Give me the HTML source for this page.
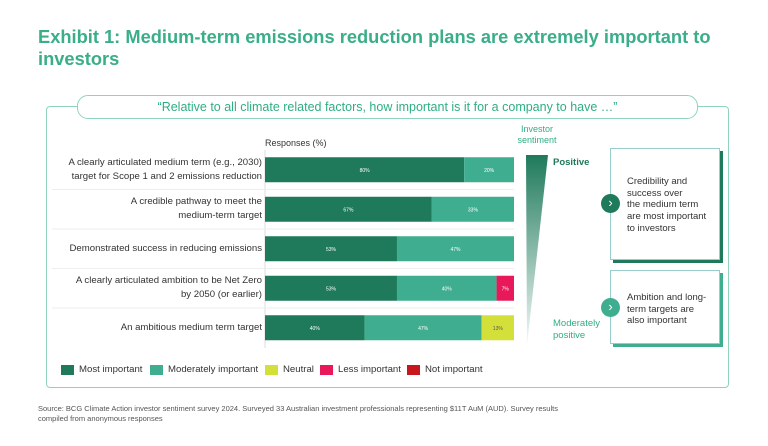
<!DOCTYPE html>
<html><head><meta charset="utf-8"><style>
body{margin:0;width:768px;height:446px;background:#fff;font-family:"Liberation Sans",sans-serif;position:relative;overflow:hidden}
.a{position:absolute}
.lbl{position:absolute;right:506px;text-align:right;font-size:9.6px;color:#333;line-height:14px;width:240px;white-space:pre-line}
.leg{position:absolute;top:364px;font-size:9.6px;color:#333;display:flex;align-items:center;white-space:nowrap}
.leg i{display:inline-block;width:13px;height:10px;margin-right:5px}
</style></head><body>
<div class="a" style="left:38px;top:26px;font-size:18.3px;font-weight:bold;color:#3aae88;line-height:22px;width:700px">Exhibit 1: Medium-term emissions reduction plans are extremely important to investors</div>
<div class="a" style="left:46px;top:106px;width:681px;height:280px;border:1.3px solid #8fd3bd;border-radius:4px"></div>
<div class="a" style="left:77px;top:95px;width:619px;height:22px;border:1.3px solid #8fd3bd;border-radius:11px;background:#fff;text-align:center;font-size:12.5px;line-height:22px;color:#2fae84">“Relative to all climate related factors, how important is it for a company to have …”</div>
<div class="a" style="left:265px;top:138px;font-size:9px;color:#333">Responses (%)</div>
<svg class="a" style="left:0;top:0" width="768" height="446" id="chart">
<defs><linearGradient id="g" x1="0" y1="0" x2="0" y2="1"><stop offset="0" stop-color="#1e7a5a"/><stop offset="1" stop-color="#1e7a5a" stop-opacity="0.05"/></linearGradient></defs>
<polygon points="526,155 548,155 527,345" fill="url(#g)"/>
<line x1="265" y1="150" x2="265" y2="348" stroke="#ddd" stroke-width="1"/>
</svg>
<div class="a" style="left:508px;top:124px;width:58px;text-align:center;font-size:9px;color:#2fae84;line-height:11px">Investor sentiment</div>
<div class="a" style="left:553px;top:157px;font-size:9.5px;font-weight:bold;color:#1e7a5a">Positive</div>
<div class="a" style="left:553px;top:318px;font-size:9.5px;color:#2fae84;line-height:12px">Moderately<br>positive</div>
<div class="a" style="left:610px;top:148px;width:108px;height:110px;border:1px solid #9cc;box-shadow:3px 3px 0 #1e7a5a;background:#fff"></div>
<div class="a" style="left:627px;top:176px;font-size:9.5px;color:#333;line-height:11.7px">Credibility and<br>success over<br>the medium term<br>are most important<br>to investors</div>
<div class="a" style="left:610px;top:270px;width:108px;height:72px;border:1px solid #9cc;box-shadow:3px 3px 0 #3fae90;background:#fff"></div>
<div class="a" style="left:627px;top:292px;font-size:9.5px;color:#333;line-height:11.7px">Ambition and long-<br>term targets are<br>also important</div>
<div class="a" style="left:601px;top:194px;width:19px;height:19px;border-radius:50%;background:#1e7a5a;color:#fff;text-align:center;font-size:13px;line-height:18px">›</div>
<div class="a" style="left:601px;top:298px;width:19px;height:19px;border-radius:50%;background:#3fae90;color:#fff;text-align:center;font-size:13px;line-height:18px">›</div>
<div class="leg" style="left:61px"><i style="background:#1e7a5a"></i>Most important</div>
<div class="leg" style="left:150px"><i style="background:#3fae90"></i>Moderately important</div>
<div class="leg" style="left:265px"><i style="background:#d4e03a"></i>Neutral</div>
<div class="leg" style="left:320px"><i style="background:#e8195a"></i>Less important</div>
<div class="leg" style="left:407px"><i style="background:#c8171e"></i>Not important</div>
<div class="a" style="left:38px;top:404px;font-size:7.5px;color:#555;line-height:10px;width:600px">Source: BCG Climate Action investor sentiment survey 2024. Surveyed 33 Australian investment professionals representing $11T AuM (AUD). Survey results<br>compiled from anonymous responses</div>
<script>
const categories=["A clearly articulated medium term (e.g., 2030)\ntarget for Scope 1 and 2 emissions reduction","A credible pathway to meet the\nmedium-term  target","Demonstrated success in reducing emissions","A clearly articulated ambition to be Net Zero\nby 2050 (or earlier)","An ambitious medium term target"];
const most=[80,67,53,53,40];
const moderately=[20,33,47,40,47];
const neutral=[0,0,0,0,13];
const less=[0,0,0,7,0];
const notImp=[0,0,0,0,0];
const series=[[most,"#1e7a5a","#fff"],[moderately,"#3fae90","#fff"],[neutral,"#d4e03a","#555"],[less,"#e8195a","#fff"],[notImp,"#c8171e","#fff"]];
const names=["most","moderately","neutral","less","not"];
const svg=document.getElementById('chart');const NS="http://www.w3.org/2000/svg";
const x0=265,w=249,y0=150,rowH=39.5,barH=25;
const xs=v=>v/100*w;
const yc=i=>y0+rowH*i+rowH/2;
categories.forEach((c,i)=>{
 const d=document.createElement('div');d.className='lbl';d.textContent=c;
 
 
 document.body.appendChild(d);
 const lines=c.includes('\n')?2:1;d.style.top=(yc(i)-lines*7)+'px';
 if(i>0){const l=document.createElementNS(NS,'line');l.setAttribute('x1',52);l.setAttribute('x2',514);l.setAttribute('y1',y0+rowH*i);l.setAttribute('y2',y0+rowH*i);l.setAttribute('stroke','#eee');svg.appendChild(l);}
 let acc=0;
 series.forEach((s,k)=>{const v=s[0][i];if(!v)return;
  const r=document.createElementNS(NS,'rect');
  r.setAttribute('x',x0+xs(acc));r.setAttribute('y',yc(i)-barH/2);r.setAttribute('width',xs(v));r.setAttribute('height',barH);r.setAttribute('fill',s[1]);
  
  
  svg.appendChild(r);
  const t=document.createElementNS(NS,'text');t.setAttribute('x',x0+xs(acc+v/2));t.setAttribute('y',yc(i)+2);t.setAttribute('text-anchor','middle');t.setAttribute('font-size','5px');t.setAttribute('fill',s[2]);t.textContent=v+'%';
  
  
  svg.appendChild(t);acc+=v;});
});
</script>
</body></html>
